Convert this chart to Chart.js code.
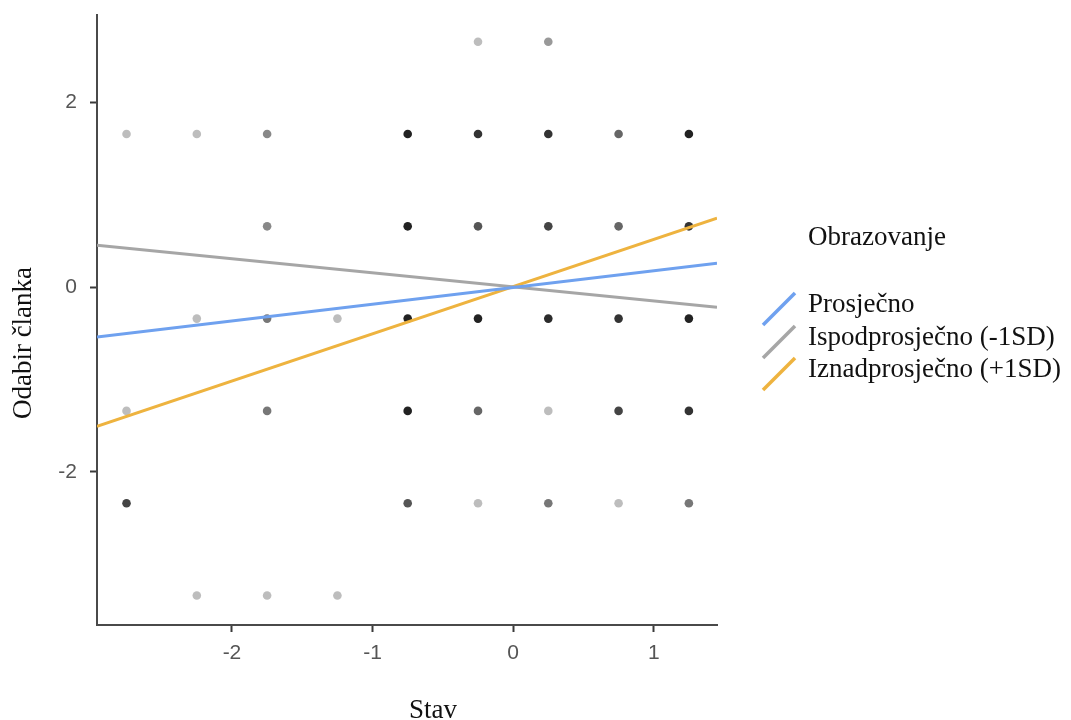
<!DOCTYPE html>
<html>
<head>
<meta charset="utf-8">
<script src="https://cdn.jsdelivr.net/npm/chart.js@4/dist/chart.umd.min.js"></script>
<style>
  html, body { margin: 0; padding: 0; background: #fff; }
  #wrap { width: 1071px; height: 720px; position: relative; }
</style>
</head>
<body>
<div id="wrap"><canvas id="myChart"></canvas></div>
<script>
const ctx = document.getElementById("myChart");

// tick labels
const xTicks = [-2, -1, 0, 1];
const yTicks = [-2, 0, 2];
const xRange = [-2.96, 1.45];
const yRange = [-3.66, 2.95];

// raw observations (x, y, grey level of the dot from overlap)
const pointX = [
  -0.25, 0.25,
  -2.75, -2.25, -1.75, -0.75, -0.25, 0.25, 0.75, 1.25,
  -1.75, -0.75, -0.25, 0.25, 0.75, 1.25,
  -2.25, -1.75, -1.25, -0.75, -0.25, 0.25, 0.75, 1.25,
  -2.75, -1.75, -0.75, -0.25, 0.25, 0.75, 1.25,
  -2.75, -0.75, -0.25, 0.25, 0.75, 1.25,
  -2.25, -1.75, -1.25,
];
const pointY = [
  2.66, 2.66,
  1.66, 1.66, 1.66, 1.66, 1.66, 1.66, 1.66, 1.66,
  0.66, 0.66, 0.66, 0.66, 0.66, 0.66,
  -0.34, -0.34, -0.34, -0.34, -0.34, -0.34, -0.34, -0.34,
  -1.34, -1.34, -1.34, -1.34, -1.34, -1.34, -1.34,
  -2.34, -2.34, -2.34, -2.34, -2.34, -2.34,
  -3.34, -3.34, -3.34,
];
const pointShade = [
  "#bdbdbd", "#999999",
  "#bdbdbd", "#bdbdbd", "#888888", "#222222", "#333333", "#333333", "#666666", "#222222",
  "#888888", "#222222", "#555555", "#444444", "#666666", "#333333",
  "#bdbdbd", "#777777", "#bdbdbd", "#222222", "#222222", "#2b2b2b", "#333333", "#222222",
  "#bdbdbd", "#777777", "#222222", "#666666", "#bdbdbd", "#444444", "#333333",
  "#444444", "#555555", "#bdbdbd", "#777777", "#bdbdbd", "#777777",
  "#bdbdbd", "#bdbdbd", "#bdbdbd",
];

// simple slopes, values at the left and right edge of the plot
const seriesNames = ["Prosječno", "Ispodprosječno (-1SD)", "Iznadprosječno (+1SD)"];
const seriesColors = ["#6fa1ef", "#a6a6a6", "#eeb33f"];
const lineAvg = [-0.54, 0.26];
const lineLow = [0.455, -0.217];
const lineHigh = [-1.507, 0.748];

const legendTitle = "Obrazovanje";
const xTitle = "Stav";
const yTitle = "Odabir članka";

const serif = "'Liberation Serif', 'Times New Roman', serif";
const sans = "'Liberation Sans', Arial, sans-serif";

function lineData(vals) {
  return [
    { x: xRange[0], y: vals[0] },
    { x: xRange[1], y: vals[1] },
  ];
}

// axis titles + legend with slanted line keys
const textPlugin = {
  id: "textBits",
  afterDraw: (chart) => {
    const c = chart.ctx;
    c.save();
    c.fillStyle = "#111";
    c.font = "27px " + serif;
    c.textBaseline = "alphabetic";

    c.textAlign = "center";
    c.fillText(xTitle, 433, 718);
    c.save();
    c.translate(31, 343);
    c.rotate(-Math.PI / 2);
    c.fillText(yTitle, 0, 0);
    c.restore();

    c.textAlign = "left";
    c.fillText(legendTitle, 808, 245);
    const rows = [312, 345, 377];
    for (let i = 0; i < seriesNames.length; i++) {
      let y = rows[i];
      c.strokeStyle = seriesColors[i];
      c.lineWidth = 3.5;
      c.lineCap = "butt";
      c.beginPath();
      c.moveTo(763, y + 13);
      c.lineTo(795, y - 19);
      c.stroke();
      c.fillStyle = "#111";
      c.fillText(seriesNames[i], 808, y);
    }
    c.restore();
  },
};

function axisOpts(pad) {
  return {
    border: { display: true, color: "#4a4a4a", width: 2 },
    grid: {
      display: true,
      drawOnChartArea: false,
      drawTicks: true,
      tickLength: 7,
      tickColor: "#3a3a3a",
      tickWidth: 2,
    },
    ticks: {
      color: "#555",
      font: { family: sans, size: 21 },
      padding: pad,
    },
  };
}

var chart = new Chart(ctx, {
  data: {
    datasets: [
      {
        type: "line",
        label: seriesNames[0],
        data: lineData(lineAvg),
        borderColor: seriesColors[0],
        borderWidth: 3,
        pointRadius: 0,
        order: 0,
      },
      {
        type: "line",
        label: seriesNames[1],
        data: lineData(lineLow),
        borderColor: seriesColors[1],
        borderWidth: 3,
        pointRadius: 0,
        order: 0,
      },
      {
        type: "line",
        label: seriesNames[2],
        data: lineData(lineHigh),
        borderColor: seriesColors[2],
        borderWidth: 3,
        pointRadius: 0,
        order: 0,
      },
      {
        type: "scatter",
        label: "obs",
        data: pointX.map((x, i) => ({ x: x, y: pointY[i] })),
        pointBackgroundColor: pointShade,
        pointBorderWidth: 0,
        pointRadius: 4.3,
        order: 1,
      },
    ],
  },
  options: {
    responsive: true,
    maintainAspectRatio: false,
    animation: false,
    layout: { padding: { top: 15, right: 354, left: 0, bottom: 0 } },
    plugins: {
      legend: { display: false },
      tooltip: { enabled: false },
    },
    scales: {
      x: {
        ...axisOpts(9),
        type: "linear",
        position: "bottom",
        min: xRange[0],
        max: xRange[1],
        afterBuildTicks: (scale) => {
          scale.ticks = xTicks.map((v) => ({ value: v }));
        },
        afterFit: (scale) => {
          scale.height = 95;
          scale.paddingLeft = 0;
          scale.paddingRight = 0;
        },
      },
      y: {
        ...axisOpts(13),
        type: "linear",
        min: yRange[0],
        max: yRange[1],
        afterBuildTicks: (scale) => {
          scale.ticks = yTicks.map((v) => ({ value: v }));
        },
        afterFit: (scale) => {
          scale.width = 97;
          scale.paddingTop = 0;
          scale.paddingBottom = 0;
        },
      },
    },
  },
  plugins: [textPlugin],
});
</script>
</body>
</html>
